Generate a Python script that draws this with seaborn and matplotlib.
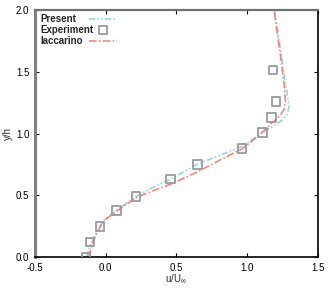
import numpy as np
import pandas as pd
import seaborn as sns
import matplotlib.pyplot as plt
from matplotlib.lines import Line2D

# experiment (squares)
exp_u = [-0.14, -0.11, -0.04, 0.077, 0.216, 0.459, 0.65, 0.965, 1.11, 1.175, 1.205, 1.184]
exp_y = [0.0, 0.12, 0.245, 0.378, 0.49, 0.632, 0.75, 0.88, 1.01, 1.128, 1.26, 1.514]

# present simulation
pres_u = [-0.135, -0.12, -0.10, -0.07, -0.04, 0.0, 0.077, 0.14, 0.216, 0.32, 0.46,
          0.65, 0.80, 0.965, 1.11, 1.20, 1.25, 1.285, 1.297, 1.287, 1.265, 1.24, 1.215, 1.195]
pres_y = [0.0, 0.06, 0.12, 0.19, 0.25, 0.31, 0.378, 0.43, 0.49, 0.555, 0.632,
          0.752, 0.82, 0.895, 1.01, 1.07, 1.11, 1.16, 1.22, 1.30, 1.45, 1.65, 1.85, 2.0]

# Iaccarino
iac_u = [-0.12, -0.105, -0.09, -0.06, -0.035, 0.0, 0.077, 0.216, 0.32, 0.46, 0.65,
         0.80, 0.965, 1.08, 1.16, 1.22, 1.26, 1.272, 1.262, 1.24, 1.215, 1.19]
iac_y = [0.0, 0.06, 0.12, 0.2, 0.25, 0.305, 0.37, 0.48, 0.53, 0.59, 0.69,
         0.78, 0.875, 0.98, 1.07, 1.13, 1.19, 1.26, 1.40, 1.60, 1.80, 2.0]

sns.set_style("ticks")
plt.rcParams["font.family"] = ["Liberation Sans", "DejaVu Sans"]
plt.rcParams["mathtext.fontset"] = "custom"
plt.rcParams["mathtext.rm"] = "Liberation Sans"
plt.rcParams["mathtext.it"] = "Liberation Sans:italic"

fig = plt.figure(figsize=(3.32, 2.95), dpi=100)
ax = fig.add_axes([0.1054, 0.1288, 0.8516, 0.8373])

blue = "#8ccfe8"
red = "#f47f6e"

sns.lineplot(x=pres_u, y=pres_y, orient="y", estimator=None, sort=True, color=blue,
             linewidth=1.1, linestyle=(0, (4, 1.5, 1, 1.5, 1, 1.5)), ax=ax)
sns.lineplot(x=iac_u, y=iac_y, orient="y", estimator=None, sort=True, color=red,
             linewidth=1.1, linestyle=(0, (5, 1.5, 1, 1.5)), ax=ax)
sns.scatterplot(x=exp_u, y=exp_y, marker="s", s=38, facecolor="none",
                edgecolor="#9a9a9a", linewidth=1.3, ax=ax, zorder=3)

ax.set_xlim(-0.5, 1.5)
ax.set_ylim(0, 2.0)
ax.set_xticks([-0.5, 0.0, 0.5, 1.0, 1.5])
ax.set_yticks([0.0, 0.5, 1.0, 1.5, 2.0])
ax.set_xticklabels(["-0.5", "0.0", "0.5", "1.0", "1.5"])
ax.set_yticklabels(["0.0", "0.5", "1.0", "1.5", "2.0"])
ax.tick_params(direction="in", length=3, width=0.8, labelsize=7, pad=4,
               top=True, right=True, colors="black")
ax.set_xlabel(r"u/U$_{\infty}$", fontsize=7, labelpad=0)
ax.set_ylabel("y/h", fontsize=7, labelpad=2)

for side in ["bottom", "right"]:
    ax.spines[side].set_color("black")
    ax.spines[side].set_linewidth(1.2)
ax.spines["left"].set_color("#808080")
ax.spines["left"].set_linewidth(2.2)
ax.spines["top"].set_color("#707070")
ax.spines["top"].set_linewidth(1.6)

labels = ["Present", "Experiment", "Iaccarino"]
handles = [
    Line2D([], [], color=blue, linewidth=1.1, linestyle=(0, (4, 1.5, 1, 1.5, 1, 1.5))),
    Line2D([], [], color="#9a9a9a", marker="s", markersize=5.8, markerfacecolor="none",
           markeredgewidth=1.3, linestyle="none"),
    Line2D([], [], color=red, linewidth=1.1, linestyle=(0, (5, 1.5, 1, 1.5))),
]
blank = [Line2D([], [], linestyle="none") for _ in labels]

leg_txt = ax.legend(blank, labels, loc="upper left", bbox_to_anchor=(0.0177, 0.984),
                    frameon=False, borderaxespad=0, borderpad=0, handlelength=0,
                    handletextpad=0, labelspacing=0.12, prop={"size": 7, "weight": "bold"})
ax.add_artist(leg_txt)
ax.legend(handles, [" "] * 3, loc="upper left", bbox_to_anchor=(0.19, 0.984),
          frameon=False, borderaxespad=0, borderpad=0, handlelength=2.9,
          handletextpad=0, labelspacing=0.12, prop={"size": 7, "weight": "bold"})

fig.savefig("out.png", dpi=100)
